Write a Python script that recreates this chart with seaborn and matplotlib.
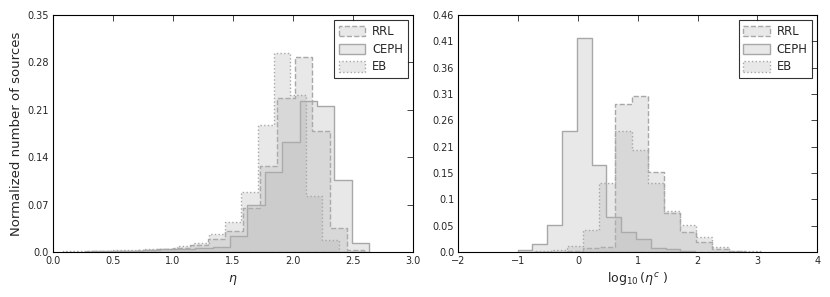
import numpy as np
import pandas as pd
import matplotlib
matplotlib.use("Agg")
import matplotlib.pyplot as plt
from matplotlib.patches import Patch
import seaborn as sns

# ---- data (bin heights, normalized) ----
series_names = ["RRL", "CEPH", "EB"]

# left panel: eta
eta_rrl_start, eta_rrl_width = 0.275, 0.145
eta_rrl = [0.001, 0.002, 0.002, 0.003, 0.004, 0.006, 0.010, 0.019, 0.031,
           0.065, 0.127, 0.227, 0.288, 0.178, 0.036, 0.003]
eta_ceph_start, eta_ceph_width = 0.315, 0.145
eta_ceph = [0.001, 0.002, 0.002, 0.003, 0.004, 0.005, 0.006, 0.008, 0.024,
            0.069, 0.118, 0.163, 0.223, 0.215, 0.106, 0.013]
eta_eb_start, eta_eb_width = 0.085, 0.135
eta_eb = [0.001, 0.001, 0.002, 0.003, 0.003, 0.004, 0.004, 0.009, 0.014,
          0.026, 0.045, 0.089, 0.188, 0.294, 0.232, 0.083, 0.018]

# right panel: log10(eta^c)
log_rrl_start, log_rrl_width = -0.183, 0.27
log_rrl = [0.002, 0.008, 0.010, 0.290, 0.305, 0.157, 0.076, 0.040, 0.020,
           0.006, 0.001]
log_ceph_start, log_ceph_width = -1.01, 0.2475
log_ceph = [0.004, 0.016, 0.053, 0.236, 0.419, 0.170, 0.068, 0.040, 0.025,
            0.008, 0.006, 0.002]
log_eb_start, log_eb_width = -0.723, 0.27
log_eb = [0.001, 0.004, 0.012, 0.043, 0.134, 0.237, 0.200, 0.135, 0.081,
          0.053, 0.030, 0.010, 0.002, 0.001]

eta_yticks = [0.0, 0.07, 0.14, 0.21, 0.28, 0.35]
eta_yticklabels = ["0.0", "0.07", "0.14", "0.21", "0.28", "0.35"]
log_ytop = 0.463
log_yticklabels = ["0.0", "0.05", "0.1", "0.15", "0.21", "0.26", "0.31",
                   "0.36", "0.41", "0.46"]

styles = {"RRL": "--", "CEPH": "-", "EB": ":"}
face = (0.70, 0.70, 0.70)
face_alpha = 0.3
edge = (0.66, 0.66, 0.66, 1.0)

sns.set_style("white")
plt.rcParams.update({
    "font.family": ["DejaVu Sans"],
    "font.size": 7,
    "xtick.direction": "in",
    "ytick.direction": "in",
    "xtick.top": True,
    "ytick.right": True,
    "xtick.major.size": 4,
    "ytick.major.size": 4,
    "xtick.major.width": 0.6,
    "ytick.major.width": 0.6,
    "axes.edgecolor": "black",
    "axes.linewidth": 0.8,
})


def draw_hist(ax, start, width, heights, name):
    edges = [start + width * i for i in range(len(heights) + 1)]
    df = pd.DataFrame({
        "center": [(edges[i] + edges[i + 1]) / 2 for i in range(len(heights))],
        "height": heights,
    })
    sns.histplot(data=df, x="center", weights="height", bins=edges,
                 element="step", fill=True, stat="count", color=face,
                 alpha=face_alpha, edgecolor=edge, linestyle=styles[name],
                 linewidth=1.0, ax=ax)


def add_legend(ax):
    handles = [Patch(facecolor=face + (face_alpha,), edgecolor=edge,
                     linestyle=styles[n], linewidth=1.0, label=n)
               for n in series_names]
    leg = ax.legend(handles=handles, loc="upper right", fontsize=8.3,
                    frameon=True, fancybox=False, handlelength=2.3,
                    handleheight=1.0, borderaxespad=0.45, labelspacing=0.42,
                    borderpad=0.4, handletextpad=0.6)
    leg.get_frame().set_edgecolor("black")
    leg.get_frame().set_linewidth(0.8)


fig = plt.figure(figsize=(8.3, 2.97), dpi=100)
fig.patch.set_facecolor("white")
ax1 = fig.add_axes([0.0639, 0.1515, 0.4337, 0.798])
ax2 = fig.add_axes([0.5522, 0.1515, 0.4325, 0.798])

draw_hist(ax1, eta_rrl_start, eta_rrl_width, eta_rrl, "RRL")
draw_hist(ax1, eta_ceph_start, eta_ceph_width, eta_ceph, "CEPH")
draw_hist(ax1, eta_eb_start, eta_eb_width, eta_eb, "EB")

draw_hist(ax2, log_rrl_start, log_rrl_width, log_rrl, "RRL")
draw_hist(ax2, log_ceph_start, log_ceph_width, log_ceph, "CEPH")
draw_hist(ax2, log_eb_start, log_eb_width, log_eb, "EB")

ax1.set_xlim(0, 3)
ax1.set_ylim(0, 0.35)
ax1.set_xticks(np.arange(0, 3.01, 0.5))
ax1.set_xticklabels([f"{v:.1f}" for v in np.arange(0, 3.01, 0.5)])
ax1.set_yticks(eta_yticks)
ax1.set_yticklabels(eta_yticklabels)
ax1.set_xlabel(r"$\eta$", fontsize=9, labelpad=5)
ax1.set_ylabel("Normalized number of sources", fontsize=9.5, labelpad=3)

ax2.set_xlim(-2, 4)
ax2.set_ylim(0, log_ytop)
ax2.set_xticks(np.arange(-2, 5, 1))
ax2.set_yticks(np.linspace(0, log_ytop, 10))
ax2.set_yticklabels(log_yticklabels)
ax2.set_xlabel(r"$\log_{10}(\eta^c\ )$", fontsize=9, labelpad=3)
ax2.set_ylabel("")

for ax in (ax1, ax2):
    ax.tick_params(labelsize=7, pad=3)
    for s in ax.spines.values():
        s.set_visible(True)
        s.set_color("black")
    add_legend(ax)

fig.savefig("out.png", dpi=100, facecolor="white")
